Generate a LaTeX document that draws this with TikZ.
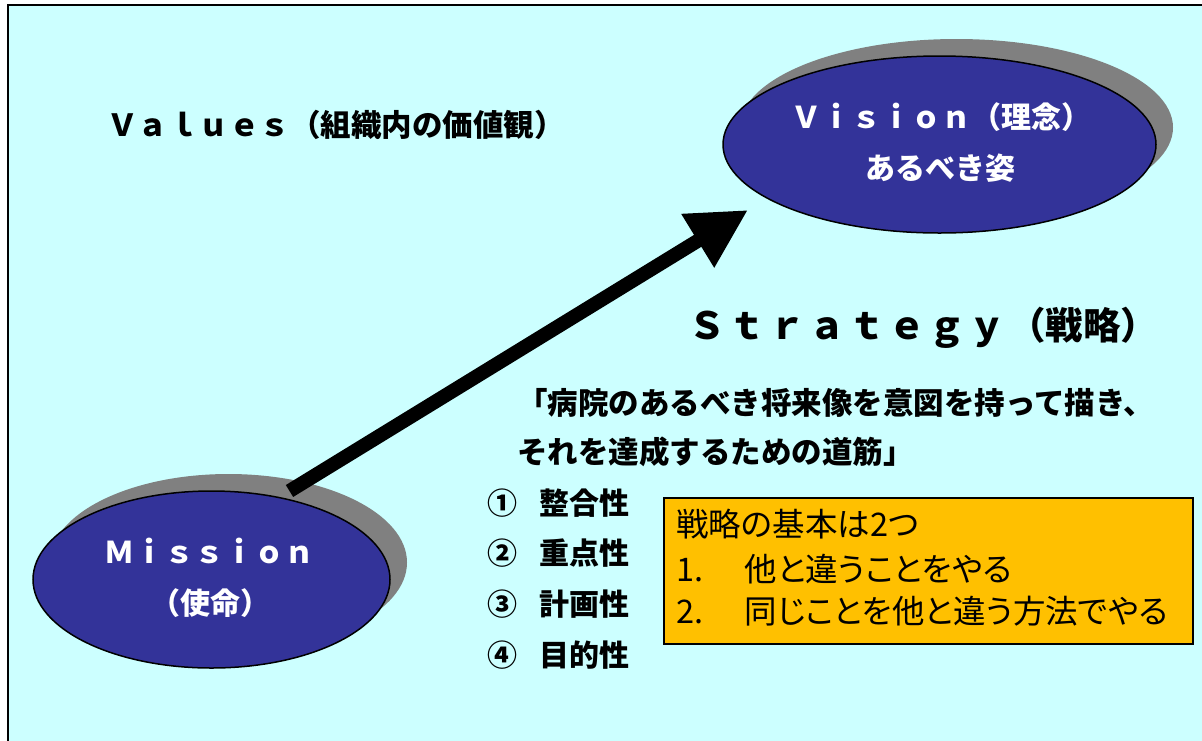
\documentclass[tikz,border=0pt]{standalone}
\usepackage{fontspec}
\newfontfamily\jp{Noto Sans CJK JP}
\newfontfamily\jpp[RawFeature=+palt]{Noto Sans CJK JP}
\usetikzlibrary{shapes.geometric,arrows.meta,shadows}
\definecolor{bgcyan}{HTML}{CCFFFF}
\definecolor{ellblue}{HTML}{333399}
\definecolor{shadowgray}{HTML}{808080}
\definecolor{boxyellow}{HTML}{FFC000}
\begin{document}
\begin{tikzpicture}[x=1pt,y=-1pt,
  ellip/.style={ellipse, draw=black, line width=1.5pt, fill=ellblue, inner sep=0pt,
    minimum height=177pt,
    drop shadow={shadow xshift=17pt, shadow yshift=17pt, fill=shadowgray, opacity=1}},
  wtext/.style={text=white, font=\jp\bfseries\fontsize{30}{36}\selectfont, inner sep=0pt, anchor=base},
  btext/.style={text=black, font=\jp\bfseries\fontsize{30.5}{36}\selectfont, inner sep=0pt, anchor=base west},
  ltext/.style={text=black, font=\jp\bfseries\fontsize{30}{36}\selectfont, inner sep=0pt, anchor=base west},
  ytext/.style={text=black, font=\jpp\fontsize{32.5}{36}\selectfont, inner sep=0pt, anchor=base west},
  bigarrow/.style={line width=14pt, -{Triangle[length=59pt,width=59pt]}}
]
\useasboundingbox (0,0) rectangle (1202,740);
\clip (0,0) rectangle (1202,740);
\fill[white] (0,0) rectangle (1202,740);
\draw[line width=2pt, fill=bgcyan] (8,5) rectangle (1240,780);

% ellipses
\node[ellip, minimum width=433pt] (vision) at (939.5,144.5) {};
\node[ellip, minimum width=357pt] (mission) at (211.5,579.5) {};

\node[wtext] (vision1) at (941,128.5) {Ｖｉｓｉｏｎ（理念）};
\node[wtext] (vision2) at (940,179.5) {あるべき姿};
\node[wtext] (mission1) at (209,563) {Ｍｉｓｓｉｏｎ};
\node[wtext] (mission2) at (210,614.5) {（使命）};

% arrow
\coordinate (atail) at (289.5,491);
\coordinate (atip) at (748,210);
\draw[bigarrow] (atail) -- (atip);

% texts
\node[btext] (values) at (107,136) {Ｖａｌｕｅｓ（組織内の価値観）};
\node[btext, font=\jp\bfseries\fontsize{37.5}{40}\selectfont] (strategy) at (688,339.5)
  {Ｓ\kern2.5ptｔ\kern2.5ptｒ\kern2.5ptａ\kern2.5ptｔ\kern2.5ptｅ\kern2.5ptｇ\kern2.5ptｙ\kern2.5pt（戦略）};
\node[btext] (quote1) at (517,414.6) {「病院のあるべき将来像を意図を持って描き、};
\node[btext] (quote2) at (517,463.6) {それを達成するための道筋」};

\node[ltext] (item1) at (487,514.4) {①\hspace{22pt}整合性};
\node[ltext] (item2) at (487,564.4) {②\hspace{22pt}重点性};
\node[ltext] (item3) at (487,615.4) {③\hspace{22pt}計画性};
\node[ltext] (item4) at (487,666.4) {④\hspace{22pt}目的性};

% yellow box
\node[draw=black, line width=1.5pt, fill=boxyellow, inner sep=0pt, anchor=north west,
  minimum width=529pt, minimum height=146pt] (box) at (663,497) {};
\node[ytext] (box1) at (676,536.4) {戦略の基本は2つ};
\node[ytext] (box2) at (676,581.4) {\makebox[68.5pt][l]{1.}他と違うことをやる};
\node[ytext] (box3) at (676,623.4) {\makebox[68.5pt][l]{2.}同じことを他と違う方法でやる};
\end{tikzpicture}
\end{document}
